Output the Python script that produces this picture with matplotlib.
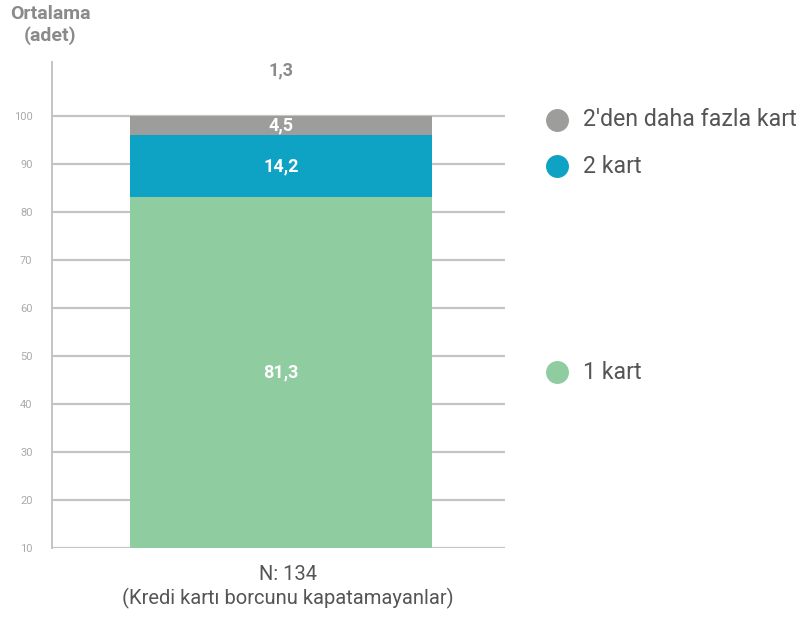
import numpy as np
import matplotlib
matplotlib.use("Agg")
import matplotlib.pyplot as plt
import matplotlib.transforms as mtransforms

plt.rcParams['font.family'] = ['Roboto', 'DejaVu Sans']

# stacked shares (%), bottom to top
segments = ["1 kart", "2 kart", "2'den daha fazla kart"]
shares = [81.3, 14.2, 4.5]
colors = ["#8fcca0", "#0ea3c5", "#9d9d9c"]
average = 1.3
tick_labels = [10, 20, 30, 40, 50, 60, 70, 80, 90, 100]
sample_label = "N: 134\n(Kredi kartı borcunu kapatamayanlar)"

fig = plt.figure(figsize=(8.01, 6.17), dpi=100)
ax = fig.add_axes([0.0649, 0.1118, 0.5656, 0.7877])
ax.set_xlim(-0.758, 0.742)
ax.set_ylim(0, 112.5)

# evenly spaced gridlines labelled 10..100
grid_pos = np.linspace(0, 100, len(tick_labels))
for g in grid_pos:
    ax.axhline(g, color="#c4c4c4", lw=1.6, zorder=1)
ax.set_yticks(grid_pos)
ax.set_yticklabels([str(t) for t in tick_labels], fontsize=8, color="#aaaaaa")
ax.tick_params(axis="y", length=0, pad=14)
ax.set_xticks([])
for s in ["top", "right", "bottom"]:
    ax.spines[s].set_visible(False)
ax.spines["left"].set_color("#c4c4c4")
ax.spines["left"].set_linewidth(1.4)

bottom = 0.0
centers = []
for name, val, col in zip(segments, shares, colors):
    ax.bar(0, val, width=1.0, bottom=bottom, color=col, zorder=2)
    c = bottom + val / 2
    centers.append(c)
    ax.text(0, c, f"{val:.1f}".replace(".", ","), ha="center", va="center",
            color="white", fontsize=13, fontweight="bold", zorder=3)
    bottom += val

ax.text(0, 110.6, f"{average:.1f}".replace(".", ","), ha="center", va="center",
        color="#8a8a8a", fontsize=13, fontweight="bold")

# legend entries sitting next to their segments (thin top slice nudged up)
trans = mtransforms.blended_transform_factory(fig.transFigure, ax.transData)
for name, val, c, col in zip(segments, shares, centers, colors):
    y = c + 1.4 if val < 5 else c
    ax.scatter([557 / 801], [y], s=240, color=col, transform=trans, clip_on=False)
    ax.text(583 / 801, y, name, transform=trans, ha="left", va="center",
            fontsize=16.7, color="#555555")

fig.text(50 / 801, 1 - 25 / 617, "Ortalama\n(adet)", ha="center", va="center",
         fontsize=14, fontweight="bold", color="#8a8a8a", linespacing=1.15)

fig.text(288 / 801, 1 - 587 / 617, sample_label, ha="center", va="center",
         fontsize=14.5, color="#555555", linespacing=1.2)

fig.savefig("out.png", dpi=100)
